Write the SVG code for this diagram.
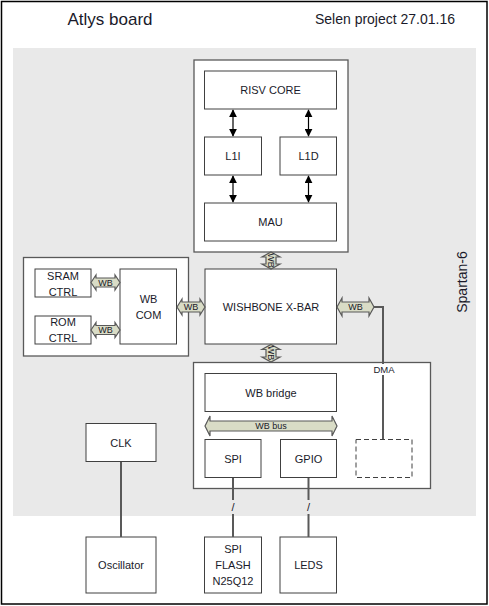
<svg xmlns="http://www.w3.org/2000/svg" width="489" height="606" viewBox="0 0 489 606">
<style>
text{font-family:"Liberation Sans",Arial,sans-serif;fill:#1a1a2a;text-anchor:middle;dominant-baseline:central}
.t{font-size:11px}
.s{font-size:9px}
.box{fill:#fff;stroke:#404040;stroke-width:1}
.cont{fill:#fff;stroke:#595959;stroke-width:1.3}
.wb{fill:#d9dcc6;stroke:#595959;stroke-width:1.2}
.ln{fill:none;stroke:#595959;stroke-width:2}
.ar{fill:none;stroke:#000;stroke-width:1.2}
</style>
<defs>
<marker id="ah" viewBox="0 0 10 10" refX="9" refY="5" markerWidth="8" markerHeight="8" markerUnits="userSpaceOnUse" orient="auto-start-reverse">
<path d="M0,0 L10,5 L0,10 Z" fill="#000"/>
</marker>
</defs>
<rect x="1.5" y="1.5" width="485.5" height="602.5" fill="#fff" stroke="#000" stroke-width="1.5"/>
<rect x="13" y="48" width="463" height="468" fill="#e9e9e9"/>
<text x="110" y="19" style="font-size:17px">Atlys board</text>
<text x="385" y="19" style="font-size:14px">Selen project 27.01.16</text>
<text x="462" y="282" style="font-size:14px" transform="rotate(-90 462 282)">Spartan-6</text>

<g id="cpu">
<rect class="cont" x="194" y="60" width="154" height="192"/>
</g>
<g id="risv-core"><rect class="box" x="204.5" y="71" width="132" height="38"/><text class="t" x="270.5" y="90">RISV CORE</text></g>
<g id="l1i"><rect class="box" x="204.5" y="137" width="57" height="38"/><text class="t" x="233" y="156">L1I</text></g>
<g id="l1d"><rect class="box" x="280" y="137" width="56.5" height="38"/><text class="t" x="308.5" y="156">L1D</text></g>
<g id="mau"><rect class="box" x="204.5" y="203" width="132" height="38"/><text class="t" x="270.5" y="222">MAU</text></g>

<g id="memory">
<rect class="cont" x="23.5" y="257.5" width="165" height="98.5"/>
</g>
<g id="sram-ctrl"><rect class="box" x="35" y="269" width="56" height="28"/><text class="t" x="63" y="275.5">SRAM</text><text class="t" x="63" y="291.5">CTRL</text></g>
<g id="rom-ctrl"><rect class="box" x="35" y="316" width="56" height="28"/><text class="t" x="63" y="322">ROM</text><text class="t" x="63" y="338">CTRL</text></g>
<g id="wb-com"><rect class="box" x="120" y="269" width="56.5" height="75"/><text class="t" x="148.5" y="299">WB</text><text class="t" x="148.5" y="315">COM</text></g>

<g id="wishbone-xbar"><rect class="box" x="205" y="269" width="131.5" height="75"/><text class="t" x="271" y="307">WISHBONE X-BAR</text></g>

<g id="periph">
<rect class="cont" x="193.5" y="362.5" width="237" height="126"/>
</g>
<g id="wb-bridge"><rect class="box" x="205" y="373.5" width="131.5" height="38"/><text class="t" x="271" y="392.5">WB bridge</text></g>
<g id="spi"><rect class="box" x="205" y="439.5" width="56" height="38"/><text class="t" x="233" y="458.5">SPI</text></g>
<g id="gpio"><rect class="box" x="280.5" y="439.5" width="56" height="38"/><text class="t" x="308.5" y="458.5">GPIO</text></g>
<g id="dma-slot"><rect x="356" y="439.5" width="56" height="38" fill="#fff" stroke="#404040" stroke-width="1" stroke-dasharray="5,3"/></g>

<g id="clk"><rect class="box" x="86" y="423.5" width="70" height="38"/><text class="t" x="121" y="442.5">CLK</text></g>
<g id="oscillator"><rect class="box" x="86" y="537" width="70" height="56"/><text class="t" x="121" y="565">Oscillator</text></g>
<g id="spi-flash"><rect class="box" x="204.5" y="537" width="57" height="56"/><text class="t" x="233" y="548.5">SPI</text><text class="t" x="233" y="565">FLASH</text><text class="t" x="233" y="581">N25Q12</text></g>
<g id="leds"><rect class="box" x="280" y="537" width="56.5" height="56"/><text class="t" x="308.5" y="565">LEDS</text></g>

<g id="connectors">
<line class="ar" x1="233" y1="110" x2="233" y2="136" marker-start="url(#ah)" marker-end="url(#ah)"/>
<line class="ar" x1="308.5" y1="110" x2="308.5" y2="136" marker-start="url(#ah)" marker-end="url(#ah)"/>
<line class="ar" x1="233" y1="176" x2="233" y2="202" marker-start="url(#ah)" marker-end="url(#ah)"/>
<line class="ar" x1="308.5" y1="176" x2="308.5" y2="202" marker-start="url(#ah)" marker-end="url(#ah)"/>

<path class="ln" d="M374,307 H383 V439" stroke="#7f7f7f"/>
<line class="ln" x1="121" y1="462" x2="121" y2="537"/>
<line class="ln" x1="233" y1="478" x2="233" y2="537" stroke="#404040" stroke-width="1.5"/>
<line class="ln" x1="308.5" y1="478" x2="308.5" y2="537" stroke="#404040" stroke-width="1.5"/>
<rect x="228" y="500" width="10" height="14" fill="#e9e9e9"/>
<rect x="303.5" y="500" width="10" height="14" fill="#e9e9e9"/>
<text class="t" x="233" y="507">/</text>
<text class="t" x="308.5" y="507">/</text>
<rect x="370" y="364" width="28" height="11" fill="#fff"/>
<text class="s" x="384" y="369.5" style="font-size:9.5px">DMA</text>

<polygon class="wb" points="91,282.5 96,275 96,278 115,278 115,275 120,282.5 115,290 115,287 96,287 96,290"/>
<text class="s" x="105.5" y="282.5">WB</text>
<polygon class="wb" points="91,330 96,322.5 96,325.5 115,325.5 115,322.5 120,330 115,337.5 115,334.5 96,334.5 96,337.5"/>
<text class="s" x="105.5" y="330">WB</text>
<polygon class="wb" points="177,307 182,299 182,302 200,302 200,299 205,307 200,315 200,312 182,312 182,315"/>
<text class="s" x="191" y="307">WB</text>
<polygon class="wb" points="337,307 342,298 342,302 369,302 369,298 374,307 369,316 369,312 342,312 342,316"/>
<text class="s" x="355.5" y="307">WB</text>
<polygon class="wb" points="271,252 280,257 276,257 276,264 280,264 271,269 262,264 266,264 266,257 262,257"/>
<text class="s" x="271" y="260.5" transform="rotate(90 271 260.5)">WB</text>
<polygon class="wb" points="271,344.5 280,349.5 276,349.5 276,357 280,357 271,362 262,357 266,357 266,349.5 262,349.5"/>
<text class="s" x="271" y="353" transform="rotate(90 271 353)">WB</text>
<polygon class="wb" points="205,426 210,416 210,421 332,421 332,416 337,426 332,436 332,431 210,431 210,436"/>
<text class="s" x="271" y="426">WB bus</text>
</g>
</svg>
